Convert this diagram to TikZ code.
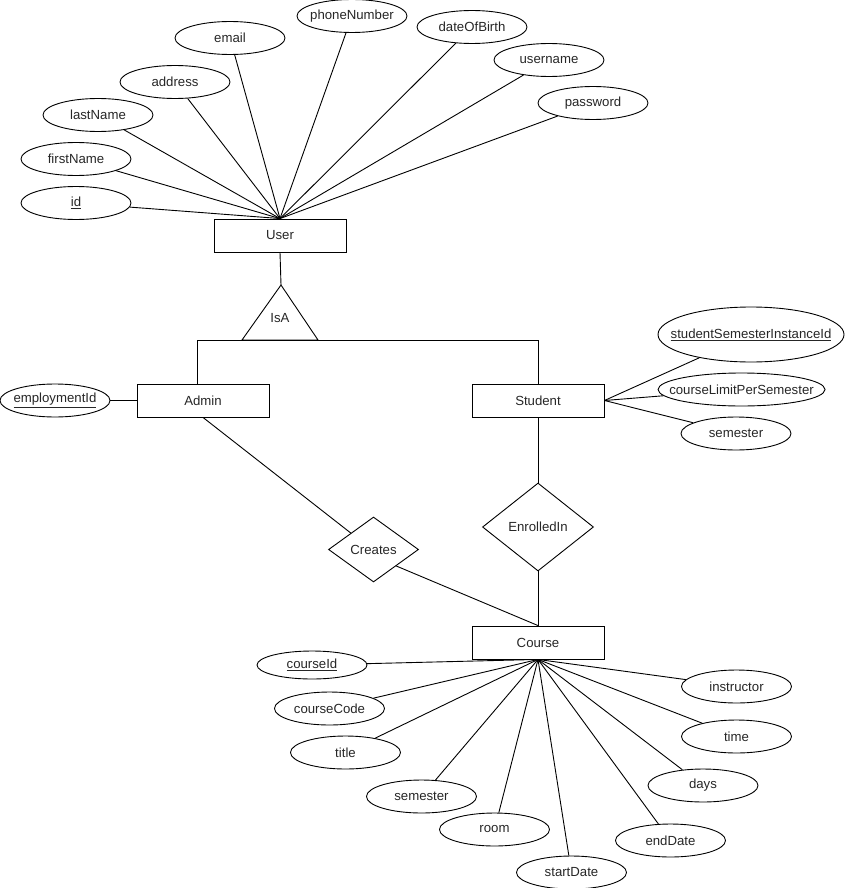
\documentclass[tikz,border=0pt]{standalone}
\usepackage{fontspec}
\setmainfont{Liberation Sans}
\usepackage{pgf,tikz}
\usetikzlibrary{shapes.geometric}
\newcommand{\nom}[1]{\makebox[0pt]{#1}}
\tikzstyle{entidad} = [draw, rectangle, minimum width=132pt, minimum height=33pt, inner sep=0pt]
\tikzstyle{atributo} = [draw, ellipse, minimum width=110pt, minimum height=33pt, inner sep=0pt]
\tikzstyle{relacion} = [draw, diamond, inner sep=0pt]

\begin{document}
\begin{tikzpicture}[x=1pt, y=-1pt, line width=0.9pt, font=\fontsize{13.2}{15}\selectfont, text=black!85]
	\useasboundingbox (0,0) rectangle (846,888);
	% entidades
	\node[entidad] (user) at (280,235.5) {User};
	\node[entidad] (admin) at (203,400.5) {Admin};
	\node[entidad] (student) at (538,400.5) {Student};
	\node[entidad] (course) at (538,642.5) {Course};
	% atributos de User
	\node[atributo] (id) at (76,203) {\nom{\underline{id}}};
	\node[atributo] (firstName) at (76,159) {\nom{firstName}};
	\node[atributo] (lastName) at (98,115) {\nom{lastName}};
	\node[atributo] (address) at (175,82) {\nom{address}};
	\node[atributo] (email) at (230,38) {\nom{email}};
	\node[atributo] (phoneNumber) at (352,16) {\nom{phoneNumber}};
	\node[atributo] (dateOfBirth) at (472,27) {\nom{dateOfBirth}};
	\node[atributo] (username) at (549,60) {\nom{username}};
	\node[atributo] (password) at (593,103) {\nom{password}};
	\foreach \a in {id,firstName,lastName,address,email,phoneNumber,dateOfBirth,username,password}
		\draw (\a) -- (user.north);
	% IsA
	\coordinate (isaTop) at (281,285);
	\coordinate (isaL) at (197,340);
	\coordinate (isaR) at (538,340);
	\draw (isaTop) -- (318,340) -- (242,340) -- cycle;
	\node (isa) at (280,318) {IsA};
	\draw (user.south) -- (isaTop);
	\draw (admin.north -| isaL) -- (isaL) -- (isaR) -- (student.north);
	% atributos de Admin y Student
	\node[atributo] (employmentId) at (55,400.5) {\nom{\underline{employmentId}}};
	\draw (employmentId) -- (admin);
	\node[atributo, minimum width=186pt, minimum height=55pt] (studentSemesterInstanceId) at (751,334.5) {\nom{\underline{studentSemesterInstanceId}}};
	\node[atributo, minimum width=167pt] (courseLimitPerSemester) at (741.5,389.5) {\nom{courseLimitPerSemester}};
	\node[atributo] (semesterS) at (736,433.5) {\nom{semester}};
	\foreach \a in {studentSemesterInstanceId,courseLimitPerSemester,semesterS}
		\draw (student.east) -- (\a);
	% relaciones
	\node[relacion, minimum width=90pt, minimum height=65pt] (creates) at (373.5,549.5) {Creates};
	\node[relacion, minimum width=111pt, minimum height=88pt] (enrolledIn) at (538,527) {EnrolledIn};
	\draw (admin.south) -- (creates.north west);
	\draw (creates.south east) -- (course.north);
	\draw (student.south) -- (enrolledIn.north);
	\draw (enrolledIn.south) -- (course.north);
	% atributos de Course
	\node[atributo, minimum height=28pt] (courseId) at (312,665) {\nom{\underline{courseId}}};
	\node[atributo] (courseCode) at (329.5,708.5) {\nom{courseCode}};
	\node[atributo] (title) at (345.5,752.5) {\nom{title}};
	\node[atributo] (semesterC) at (421.5,796.5) {\nom{semester}};
	\node[atributo] (room) at (494.5,829.5) {\nom{room}};
	\node[atributo] (startDate) at (571.5,872.5) {\nom{startDate}};
	\node[atributo] (endDate) at (670.5,840.5) {\nom{endDate}};
	\node[atributo] (days) at (703,785.5) {\nom{days}};
	\node[atributo] (time) at (736.5,736.5) {\nom{time}};
	\node[atributo] (instructor) at (736.5,686.5) {\nom{instructor}};
	\foreach \a in {courseId,courseCode,title,semesterC,room,startDate,endDate,days,time,instructor}
		\draw (course.south) -- (\a);
\end{tikzpicture}
\end{document}
